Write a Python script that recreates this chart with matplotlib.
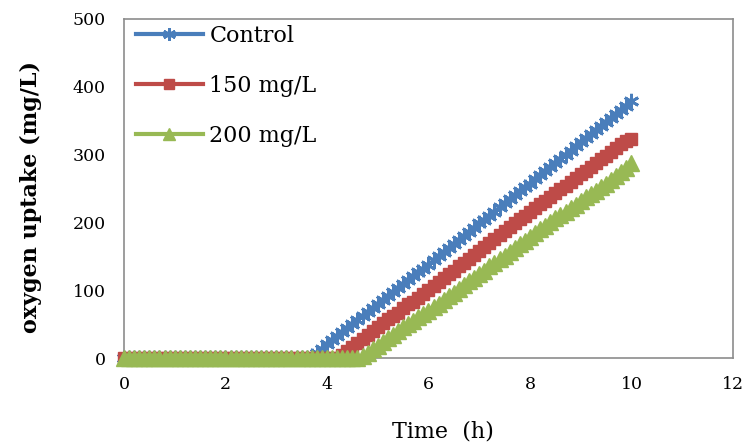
import matplotlib
matplotlib.use('Agg')
import matplotlib.pyplot as plt

plt.rcParams['font.family'] = ['DejaVu Serif']

# sample times (h), every 0.1 h from 0 to 10
time_h = [round(0.1 * i, 1) for i in range(101)]

# oxygen uptake (mg/L)
control = [0] * 37 + [3, 8, 14, 20, 26, 32, 38, 44, 50, 56,
                      62, 68, 74, 79, 86, 91, 97, 103, 109, 115,
                      121, 127, 132, 137, 144, 150, 156, 162, 168, 174,
                      180, 186, 192, 199, 204, 210, 216, 222, 228, 234,
                      240, 246, 252, 257, 264, 270, 276, 282, 288, 294,
                      300, 306, 312, 319, 324, 330, 336, 342, 348, 354,
                      360, 366, 372, 379]
mg150 = [0] * 43 + [4, 10, 16, 22, 28, 34, 40, 46, 52, 57,
                    62, 67, 74, 79, 83, 88, 94, 100, 106, 112,
                    118, 124, 129, 135, 140, 146, 152, 158, 164, 170,
                    176, 182, 188, 193, 199, 205, 210, 216, 221, 227,
                    232, 238, 243, 249, 254, 260, 265, 271, 276, 282,
                    287, 293, 298, 304, 309, 315, 320, 323]
mg200 = [0] * 47 + [3, 8, 13, 18, 23, 29, 34, 40, 46, 50,
                    55, 60, 65, 70, 75, 80, 86, 91, 96, 102,
                    107, 113, 118, 124, 129, 135, 140, 146, 151, 157,
                    162, 168, 173, 179, 184, 190, 195, 200, 206, 211,
                    216, 221, 226, 232, 237, 242, 247, 252, 257, 262,
                    268, 274, 280, 287]

labels = ['Control', '150 mg/L', '200 mg/L']
x_ticks = [0, 2, 4, 6, 8, 10, 12]
y_ticks = [0, 100, 200, 300, 400, 500]

blue = '#4A7EBB'
red = '#BE4B48'
green = '#98B954'

fig = plt.figure(figsize=(7.45, 4.47), dpi=100)
ax = fig.add_axes([0.1664, 0.1991, 0.8175, 0.7584])

ax.plot(time_h, control, color=blue, lw=3, marker=(6, 2, 0), ms=11, mew=2,
        clip_on=False, label=labels[0], zorder=3)
ax.plot(time_h, mg150, color=red, lw=3, marker='s', ms=9,
        clip_on=False, label=labels[1], zorder=4)
ax.plot(time_h, mg200, color=green, lw=3, marker='^', ms=11,
        clip_on=False, label=labels[2], zorder=5)

ax.set_xlim(0, 12)
ax.set_ylim(0, 500)
ax.set_xticks(x_ticks)
ax.set_yticks(y_ticks)
ax.tick_params(length=0, pad=13, labelsize=12.5)
for s in ax.spines.values():
    s.set_color('#8C8C8C')
    s.set_linewidth(1.2)

ax.set_xlabel('Time  (h)', fontsize=16)
ax.xaxis.set_label_coords(0.523, -0.185)
ax.set_ylabel('oxygen uptake (mg/L)', fontsize=16, fontweight='bold')
ax.yaxis.set_label_coords(-0.135, 0.475)

leg = ax.legend(loc='upper left', bbox_to_anchor=(0.02, 0.982), frameon=False,
                fontsize=16, handlelength=3.0, handletextpad=0.3, labelspacing=1.25,
                borderaxespad=0, borderpad=0, markerscale=0.85)

fig.savefig('out.png', dpi=100)
